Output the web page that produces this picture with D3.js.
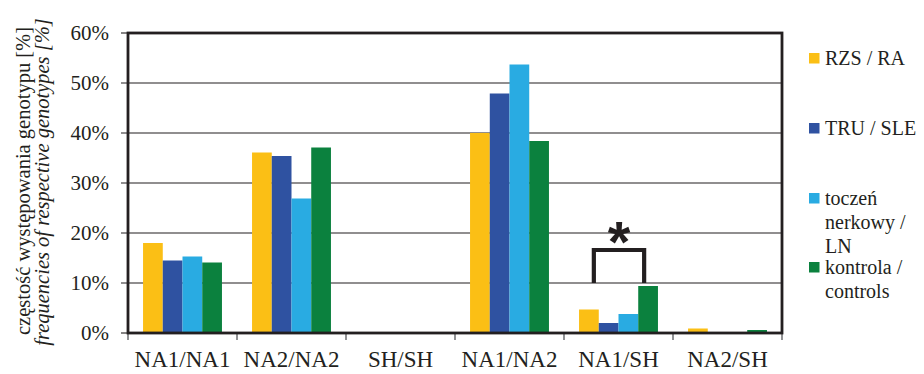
<!DOCTYPE html>
<html>
<head>
<meta charset="utf-8">
<script src="https://cdn.jsdelivr.net/npm/d3@7"></script>
<style>
  html, body { margin: 0; padding: 0; background: #fff; }
  svg { display: block; }
</style>
</head>
<body>
<svg id="chart" width="924" height="374"></svg>
<script>
// Genotype categories on the x axis
const categories = ["NA1/NA1", "NA2/NA2", "SH/SH", "NA1/NA2", "NA1/SH", "NA2/SH"];

// Patient groups (series)
const seriesNames = ["RZS / RA", "TRU / SLE", "toczeń nerkowy / LN", "kontrola / controls"];
const seriesLegendLines = [["RZS / RA"], ["TRU / SLE"], ["toczeń", "nerkowy /", "LN"], ["kontrola /", "controls"]];
const seriesColors = ["#fbbf15", "#2f52a1", "#29abe2", "#0b813e"];

// Genotype frequencies [%] per group, in category order
const valuesRA = [18.0, 36.1, 0, 40.0, 4.7, 0.9];
const valuesSLE = [14.5, 35.4, 0, 47.9, 2.0, 0];
const valuesLN = [15.3, 26.9, 0, 53.7, 3.8, 0];
const valuesControls = [14.1, 37.1, 0, 38.4, 9.4, 0.6];

// Y axis ticks [%]
const yTicks = [0, 10, 20, 30, 40, 50, 60];

// Significance marker: NA1/SH, between RA group and controls
const sigCategory = "NA1/SH";
const sigFrom = "RZS / RA";
const sigTo = "kontrola / controls";
const sigBase = 10;   // bracket legs end at this level [%]
const sigTop = 16.6;  // bracket bar level [%]

const allValues = [valuesRA, valuesSLE, valuesLN, valuesControls];

const serif = "Liberation Serif";
const ink = "#231f20";

const svg = d3.select("#chart");
const plot = { left: 128, right: 782, top: 33, bottom: 333 };

const x = d3.scaleBand().domain(categories).range([plot.left, plot.right]);
const gap = x.bandwidth() * 0.138;
const x1 = d3.scaleBand().domain(seriesNames).range([gap, x.bandwidth() - gap]);
const y = d3.scaleLinear().domain([0, 60]).range([plot.bottom, plot.top]);

// Horizontal gridlines with outward ticks on the left
svg.append("g")
  .selectAll("line")
  .data(yTicks.filter(t => t > 0 && t < 60))
  .join("line")
  .attr("x1", plot.left - 7).attr("x2", plot.right)
  .attr("y1", d => y(d)).attr("y2", d => y(d))
  .attr("stroke", ink).attr("stroke-width", 1.1);

// Bars
const barData = [];
categories.forEach((c, ci) => {
  seriesNames.forEach((s, si) => {
    barData.push({ c, s, si, v: allValues[si][ci] });
  });
});
svg.append("g")
  .selectAll("rect")
  .data(barData.filter(d => d.v > 0))
  .join("rect")
  .attr("x", d => x(d.c) + x1(d.s))
  .attr("y", d => y(d.v))
  .attr("width", x1.bandwidth())
  .attr("height", d => y(0) - y(d.v))
  .attr("fill", d => seriesColors[d.si]);

// Category ticks below the baseline
svg.append("g")
  .selectAll("line")
  .data(categories.map(c => x(c)).concat([plot.right]))
  .join("line")
  .attr("x1", d => d).attr("x2", d => d)
  .attr("y1", plot.bottom).attr("y2", plot.bottom + 7)
  .attr("stroke", "#6d6e71").attr("stroke-width", 1.5);

// Plot frame
svg.append("rect")
  .attr("x", plot.left).attr("y", plot.top)
  .attr("width", plot.right - plot.left).attr("height", plot.bottom - plot.top)
  .attr("fill", "none").attr("stroke", ink).attr("stroke-width", 2.8);

// Ticks at the 0% and 60% ends of the y axis
svg.append("g")
  .selectAll("line")
  .data([0, 60])
  .join("line")
  .attr("x1", plot.left - 7).attr("x2", plot.left)
  .attr("y1", d => y(d)).attr("y2", d => y(d))
  .attr("stroke", ink).attr("stroke-width", 1.1);

// Y tick labels
svg.append("g")
  .selectAll("text")
  .data(yTicks)
  .join("text")
  .attr("x", 109)
  .attr("y", d => y(d) + 7)
  .attr("text-anchor", "end")
  .attr("font-family", serif)
  .attr("font-size", 21)
  .attr("fill", ink)
  .text(d => d + "%");

// Category labels
svg.append("g")
  .selectAll("text")
  .data(categories)
  .join("text")
  .attr("x", d => x(d) + x.bandwidth() / 2)
  .attr("y", 367)
  .attr("text-anchor", "middle")
  .attr("font-family", serif)
  .attr("font-size", 23)
  .attr("fill", ink)
  .text(d => d);

// Y axis title (two lines, rotated)
const yTitle = svg.append("g").attr("fill", ink);
yTitle.append("text")
  .attr("transform", "translate(30,181) rotate(-90)")
  .attr("text-anchor", "middle")
  .attr("font-family", serif)
  .attr("font-size", 20.5)
  .text("częstość występowania genotypu [%]");
yTitle.append("text")
  .attr("transform", "translate(49,182) rotate(-90)")
  .attr("text-anchor", "middle")
  .attr("font-family", serif)
  .attr("font-size", 20.5)
  .attr("font-style", "italic")
  .text("frequencies of respective genotypes [%]");

// Significance bracket and asterisk
const sx1 = x(sigCategory) + x1(sigFrom) + x1.bandwidth() * 0.75;
const sx2 = x(sigCategory) + x1(sigTo) + x1.bandwidth() * 0.3;
svg.append("path")
  .attr("d", `M${sx1},${y(sigBase)} V${y(sigTop)} H${sx2} V${y(sigBase)}`)
  .attr("fill", "none")
  .attr("stroke", ink)
  .attr("stroke-width", 4.2);
svg.append("text")
  .attr("x", (sx1 + sx2) / 2)
  .attr("y", y(sigTop) + 12)
  .attr("text-anchor", "middle")
  .attr("font-family", "Liberation Sans")
  .attr("font-weight", "bold")
  .attr("font-size", 58)
  .attr("fill", ink)
  .text("*");

// Legend
const legend = svg.append("g");
const legendTop = [53, 123, 193, 262];
seriesNames.forEach((s, i) => {
  const g = legend.append("g").attr("transform", `translate(809,${legendTop[i]})`);
  g.append("rect").attr("width", 10.5).attr("height", 10.5).attr("fill", seriesColors[i]);
  const t = g.append("text").attr("x", 16).attr("y", 12)
    .attr("font-family", serif).attr("font-size", 20).attr("fill", ink);
  seriesLegendLines[i].forEach((line, li) => {
    t.append("tspan").attr("x", 16).attr("dy", li === 0 ? 0 : 24).text(line);
  });
});
</script>
</body>
</html>
